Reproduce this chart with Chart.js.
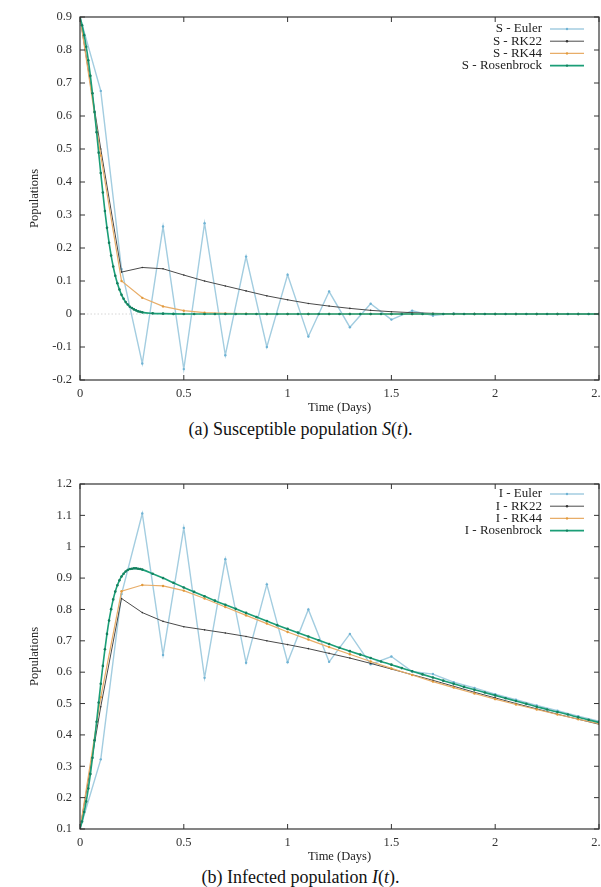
<!DOCTYPE html>
<html>
<head>
<meta charset="utf-8">
<script src="https://cdn.jsdelivr.net/npm/chart.js@4.4.0/dist/chart.umd.min.js"></script>
<style>
  html, body { margin: 0; padding: 0; overflow: hidden; background: #fff; width: 601px; height: 887px; }
  canvas { position: absolute; left: 0; }
  #chartS { top: 0; }
  #chartI { top: 460px; }
  .cap { position: absolute; left: 0; width: 601px; text-align: center; font-family: 'Liberation Serif', serif; font-size: 18px; line-height: 22px; color: #111; }
</style>
</head>
<body>
<canvas id="chartS" width="620" height="416"></canvas>
<div class="cap" style="top:418px">(a) Susceptible population <i>S</i>(<i>t</i>).</div>
<canvas id="chartI" width="620" height="405"></canvas>
<div class="cap" style="top:866px">(b) Infected population <i>I</i>(<i>t</i>).</div>
<script>
// fixed step methods, h = 0.1
const stepTime = [0, 0.1, 0.2, 0.3, 0.4, 0.5, 0.6, 0.7, 0.8, 0.9, 1.0, 1.1, 1.2, 1.3, 1.4, 1.5, 1.6, 1.7, 1.8, 1.9, 2.0, 2.1, 2.2, 2.3, 2.4, 2.5];

const eulerS = [0.9, 0.676, 0.136, -0.15, 0.265, -0.167, 0.275, -0.125, 0.174, -0.1, 0.119, -0.068, 0.068, -0.04, 0.031, -0.017, 0.01, -0.005, 0.002, 0, 0, 0, 0, 0, 0, 0];
const rk22S = [0.9, 0.5, 0.127, 0.141, 0.137, 0.118, 0.1, 0.085, 0.07, 0.055, 0.043, 0.032, 0.024, 0.017, 0.011, 0.007, 0.004, 0.002, 0.001, 0.001, 0, 0, 0, 0, 0, 0];
const rk44S = [0.9, 0.48, 0.1, 0.049, 0.023, 0.01, 0.004, 0.002, 0.001, 0, 0, 0, 0, 0, 0, 0, 0, 0, 0, 0, 0, 0, 0, 0, 0, 0];

const eulerI = [0.1, 0.322, 0.849, 1.106, 0.655, 1.06, 0.582, 0.96, 0.63, 0.88, 0.632, 0.8, 0.633, 0.722, 0.625, 0.65, 0.602, 0.594, 0.568, 0.55, 0.53, 0.512, 0.494, 0.477, 0.46, 0.444];
const rk22I = [0.1, 0.49, 0.835, 0.79, 0.762, 0.745, 0.735, 0.725, 0.714, 0.7, 0.688, 0.675, 0.66, 0.645, 0.628, 0.61, 0.592, 0.574, 0.555, 0.536, 0.518, 0.5, 0.483, 0.466, 0.45, 0.434];
const rk44I = [0.1, 0.52, 0.858, 0.878, 0.875, 0.86, 0.835, 0.808, 0.781, 0.755, 0.728, 0.704, 0.68, 0.657, 0.634, 0.612, 0.591, 0.57, 0.551, 0.532, 0.514, 0.497, 0.481, 0.465, 0.45, 0.436];

// Rosenbrock (adaptive, fine steps at start)
const rosTime = [0, 0.01, 0.02, 0.03, 0.04, 0.05, 0.06, 0.07, 0.08, 0.09, 0.1, 0.11, 0.12, 0.13, 0.14, 0.15,
  0.16, 0.17, 0.18, 0.19, 0.2, 0.21, 0.22, 0.23, 0.24, 0.25, 0.26, 0.27, 0.28, 0.29, 0.3,
  0.35, 0.4, 0.45, 0.5, 0.55, 0.6, 0.65, 0.7, 0.75, 0.8, 0.85, 0.9, 0.95, 1.0, 1.05, 1.1, 1.15, 1.2, 1.25, 1.3,
  1.35, 1.4, 1.45, 1.5, 1.55, 1.6, 1.65, 1.7, 1.75, 1.8, 1.85, 1.9, 1.95, 2.0, 2.05, 2.1, 2.15, 2.2, 2.25, 2.3,
  2.35, 2.4, 2.45, 2.5];
const rosS = [0.9, 0.875, 0.845, 0.81, 0.769, 0.722, 0.669, 0.612, 0.551, 0.489, 0.427, 0.368, 0.312, 0.261, 0.216, 0.177,
  0.144, 0.116, 0.093, 0.074, 0.058, 0.046, 0.036, 0.029, 0.022, 0.018, 0.014, 0.011, 0.008, 0.007, 0.005,
  0.002, 0.001, 0.0003, 0, 0, 0, 0, 0, 0, 0, 0, 0, 0, 0, 0, 0, 0, 0, 0, 0,
  0, 0, 0, 0, 0, 0, 0, 0, 0, 0, 0, 0, 0, 0, 0, 0, 0, 0, 0, 0,
  0, 0, 0, 0];
const rosI = [0.1, 0.124, 0.154, 0.188, 0.229, 0.275, 0.327, 0.383, 0.442, 0.503, 0.563, 0.62, 0.673, 0.722, 0.765, 0.801,
  0.832, 0.857, 0.877, 0.893, 0.905, 0.914, 0.921, 0.926, 0.929, 0.93, 0.931, 0.931, 0.93, 0.929, 0.927,
  0.914, 0.9, 0.885, 0.87, 0.856, 0.842, 0.828, 0.815, 0.802, 0.789, 0.776, 0.763, 0.75, 0.738, 0.726, 0.714, 0.702, 0.69, 0.678, 0.667,
  0.656, 0.645, 0.634, 0.624, 0.613, 0.603, 0.593, 0.583, 0.573, 0.563, 0.553, 0.544, 0.535, 0.526, 0.517, 0.508, 0.499, 0.49, 0.481, 0.473,
  0.465, 0.456, 0.448, 0.44];

const methods = ['Euler', 'RK22', 'RK44', 'Rosenbrock'];
const lineColors = ['#a3cde0', '#4a4a4a', '#e8ad68', '#1b9e77'];
const dotColors = ['#6fb3d4', '#333333', '#e39b3c', '#14805f'];

const serif = "'Liberation Serif', 'DejaVu Serif', serif";

function pts(xs, ys) {
  return xs.map((x, i) => ({ x: x, y: ys[i] }));
}

// gnuplot style numbers: 1 not 1.0
function plainTick(v) {
  return String(+v.toFixed(2));
}

// gnuplot look: box, inward ticks, zero line, legend on the right
const gnuplotFrame = {
  id: 'gnuplotFrame',
  beforeDatasetsDraw(chart) {
    const { ctx, chartArea: a, scales: { y } } = chart;
    if (y.min < 0 && y.max > 0) {
      const y0 = y.getPixelForValue(0);
      ctx.save();
      ctx.strokeStyle = '#cccccc';
      ctx.lineWidth = 0.8;
      ctx.setLineDash([1.5, 2]);
      ctx.beginPath();
      ctx.moveTo(a.left, y0);
      ctx.lineTo(a.right, y0);
      ctx.stroke();
      ctx.restore();
    }
  },
  afterDatasetsDraw(chart) {
    const { ctx, chartArea: a, scales: { x, y } } = chart;
    const len = 5;
    ctx.save();
    ctx.strokeStyle = '#333';
    ctx.lineWidth = 1.2;
    ctx.strokeRect(a.left, a.top, a.right - a.left, a.bottom - a.top);
    ctx.lineWidth = 1;
    ctx.beginPath();
    x.ticks.forEach(t => {
      const px = x.getPixelForValue(t.value);
      ctx.moveTo(px, a.bottom); ctx.lineTo(px, a.bottom - len);
      ctx.moveTo(px, a.top); ctx.lineTo(px, a.top + len);
    });
    y.ticks.forEach(t => {
      const py = y.getPixelForValue(t.value);
      ctx.moveTo(a.left, py); ctx.lineTo(a.left + len, py);
      ctx.moveTo(a.right, py); ctx.lineTo(a.right - len, py);
    });
    ctx.stroke();
    ctx.restore();
  },
  afterDraw(chart, args, opts) {
    const { ctx, chartArea: a } = chart;
    ctx.save();
    ctx.font = '13px ' + serif;
    ctx.textAlign = 'right';
    ctx.textBaseline = 'middle';
    chart.data.datasets.forEach((ds, i) => {
      const yy = a.top + opts.legendTop + i * 12.2;
      ctx.fillStyle = '#222';
      ctx.fillText(ds.label, a.right - 57, yy);
      ctx.strokeStyle = ds.borderColor;
      ctx.lineWidth = ds.borderWidth;
      ctx.beginPath();
      ctx.moveTo(a.right - 49, yy);
      ctx.lineTo(a.right - 15, yy);
      ctx.stroke();
      ctx.fillStyle = ds.pointBackgroundColor;
      ctx.beginPath();
      ctx.arc(a.right - 32, yy, 1.2, 0, Math.PI * 2);
      ctx.fill();
    });
    ctx.restore();
  }
};

function makeDatasets(prefix, series) {
  return methods.map((m, i) => ({
    label: prefix + ' - ' + m,
    data: i === 3 ? pts(rosTime, series[i]) : pts(stepTime, series[i]),
    borderColor: lineColors[i],
    backgroundColor: lineColors[i],
    pointBackgroundColor: dotColors[i],
    pointBorderWidth: 0,
    pointRadius: i === 3 ? 1.3 : (i === 1 ? 0.8 : 1.2),
    borderWidth: [1.4, 1, 1.2, 1.6][i],
    cubicInterpolationMode: i === 3 ? 'monotone' : 'default',
    tension: 0,
    order: 4 - i
  }));
}

function makeConfig(prefix, series, yMin, yMax, padTop, legendTop) {
  return {
    type: 'line',
    data: { datasets: makeDatasets(prefix, series) },
    options: {
      responsive: false,
      animation: false,
      layout: { padding: { left: 0, top: padTop, right: 21, bottom: 0 } },
      plugins: {
        legend: { display: false },
        tooltip: { enabled: false },
        gnuplotFrame: { legendTop: legendTop }
      },
      scales: {
        x: {
          type: 'linear',
          min: 0,
          max: 2.5,
          grid: { display: false, drawTicks: false },
          border: { display: false },
          ticks: { stepSize: 0.5, padding: 6, color: '#333', callback: plainTick,
                   font: { family: serif, size: 12.5 } },
          title: { display: true, text: 'Time (Days)', color: '#222', padding: { top: 0, bottom: 0.5 },
                   font: { family: serif, size: 12.5, lineHeight: 1.2 } },
          afterFit(scale) { scale.height = 36; }
        },
        y: {
          min: yMin,
          max: yMax,
          grid: { display: false, drawTicks: false },
          border: { display: false },
          ticks: { stepSize: 0.1, padding: 8, color: '#333', callback: plainTick,
                   font: { family: serif, size: 12.5 } },
          title: { display: true, text: 'Populations', color: '#222', padding: { top: 27.5, bottom: 0 },
                   font: { family: serif, size: 12.5, lineHeight: 1.2 } },
          afterFit(scale) { scale.width = 80; }
        }
      }
    },
    plugins: [gnuplotFrame]
  };
}

new Chart(document.getElementById('chartS'),
  makeConfig('S', [eulerS, rk22S, rk44S, rosS], -0.2, 0.9, 17, 12));

new Chart(document.getElementById('chartI'),
  makeConfig('I', [eulerI, rk22I, rk44I, rosI], 0.1, 1.2, 24, 10));
</script>
</body>
</html>
